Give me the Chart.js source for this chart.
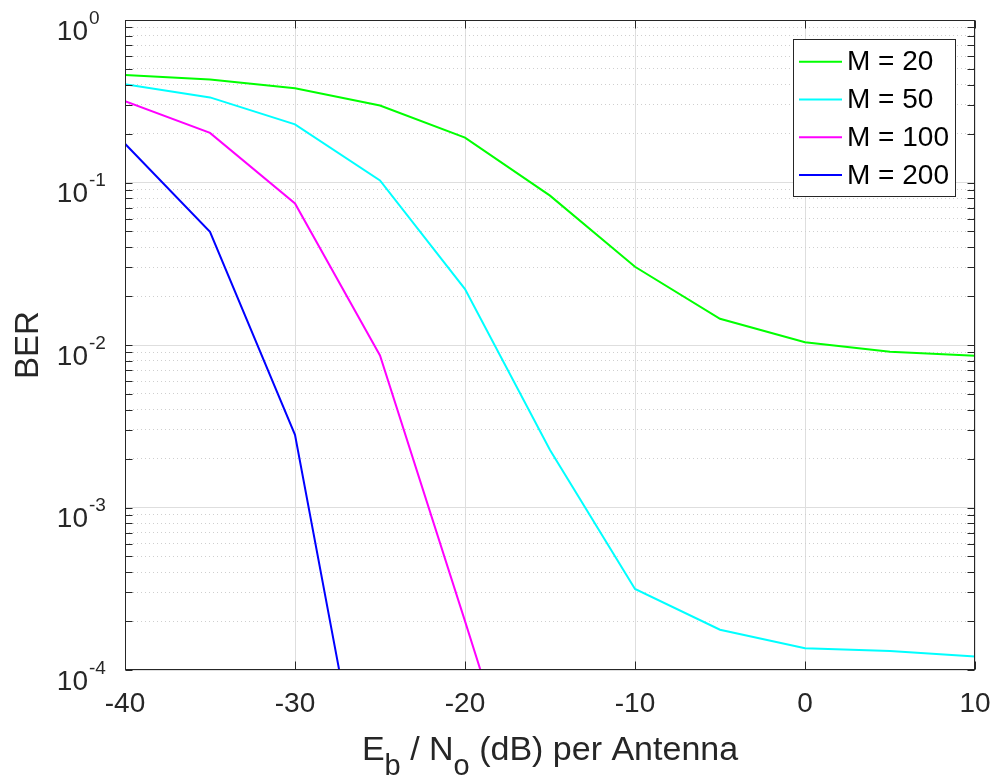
<!DOCTYPE html>
<html><head><meta charset="utf-8">
<script src="https://cdn.jsdelivr.net/npm/chart.js@4/dist/chart.umd.min.js"></script>
<style>html,body{margin:0;padding:0;background:#fff}#wrap{width:999px;height:778px;position:relative}</style>
</head><body><div id="wrap"><canvas id="c" width="999" height="778"></canvas></div>
<script>
// ---- data ----
const ebno = [-40, -35, -30, -25, -20, -15, -10, -5, 0, 5, 10];
const berM20  = [0.458, 0.43, 0.38, 0.298, 0.189, 0.083, 0.0303, 0.0145, 0.0104, 0.0091, 0.0086];
const berM50  = [0.403, 0.334, 0.228, 0.103, 0.0221, 0.00226, 3.15e-4, 1.77e-4, 1.36e-4, 1.31e-4, 1.21e-4];
const berM100 = [0.316, 0.202, 0.0743, 0.00863, 2.0e-4, 4.4e-6];
const berM200 = [0.173, 0.0497, 0.0028, 4.6e-6];
const seriesLabels = ['M = 20', 'M = 50', 'M = 100', 'M = 200'];
const xTickValues = [-40, -30, -20, -10, 0, 10];
const yDecades = [0, -1, -2, -3, -4];
const xTitleParts = [['E', 'main'], ['b', 'sub'], [' / N', 'main'], ['o', 'sub'], [' (dB) per Antenna', 'main']];
const yTitle = 'BER';

// ---- styling ----
const FONT = '"Liberation Sans", Arial, Helvetica, sans-serif';
const INK = '#262626';
const MAJOR_GRID = '#dedede';
const MINOR_GRID = '#cfcfcf';

function pts(vals) { return vals.map((v, i) => ({ x: ebno[i], y: v })); }
function isMajor(v) { const l = Math.log10(v); return Math.abs(l - Math.round(l)) < 1e-9; }

const lineColors = ['#00ff00', '#00ffff', '#ff00ff', '#0000ff'];
const datasets = [berM20, berM50, berM100, berM200].map((vals, i) => ({
  label: seriesLabels[i],
  data: pts(vals),
  borderColor: lineColors[i],
  backgroundColor: lineColors[i],
  borderWidth: 2,
  pointRadius: 0,
  tension: 0,
  fill: false
}));

const decorPlugin = {
  id: 'decor',
  afterDraw(chart) {
    const ctx = chart.ctx;
    const a = chart.chartArea;
    const xs = chart.scales.x, ys = chart.scales.y;
    const L = Math.round(a.left) + 0.5, R = Math.round(a.right) - 0.5;
    const T = Math.round(a.top) + 0.5, B = Math.round(a.bottom) - 0.5;
    ctx.save();
    // inward ticks
    ctx.strokeStyle = INK; ctx.lineWidth = 1;
    ctx.beginPath();
    ys.ticks.forEach(t => {
      const y = Math.round(ys.getPixelForValue(t.value)) + 0.5;
      ctx.moveTo(L, y); ctx.lineTo(L + 7, y);
      ctx.moveTo(R, y); ctx.lineTo(R - 7, y);
    });
    xs.ticks.forEach(t => {
      const x = Math.round(xs.getPixelForValue(t.value)) + 0.5;
      ctx.moveTo(x, B); ctx.lineTo(x, B - 8);
      ctx.moveTo(x, T); ctx.lineTo(x, T + 8);
    });
    ctx.stroke();
    // box
    ctx.strokeRect(L, T, R - L, B - T);

    // y tick labels with superscripts
    ctx.fillStyle = INK;
    yDecades.forEach(k => {
      const y = ys.getPixelForValue(Math.pow(10, k));
      ctx.font = '28px ' + FONT;
      ctx.textAlign = 'right'; ctx.textBaseline = 'alphabetic';
      ctx.fillText('10', 88, y + 19.7);
      ctx.font = '19px ' + FONT;
      ctx.textAlign = 'left';
      ctx.fillText(String(k), 89, y + 3.7);
    });

    // y title
    ctx.save();
    ctx.translate(29, (a.top + a.bottom) / 2);
    ctx.rotate(-Math.PI / 2);
    ctx.font = '33px ' + FONT;
    ctx.textAlign = 'center'; ctx.textBaseline = 'middle';
    ctx.fillText(yTitle, 0, 0);
    ctx.restore();

    // x title with subscripts
    const fonts = { main: '34px ' + FONT, sub: '29px ' + FONT };
    let total = 0;
    xTitleParts.forEach(p => { ctx.font = fonts[p[1]]; total += ctx.measureText(p[0]).width; });
    let x = (a.left + a.right) / 2 - total / 2;
    ctx.textAlign = 'left'; ctx.textBaseline = 'alphabetic';
    xTitleParts.forEach(p => {
      ctx.font = fonts[p[1]];
      ctx.fillText(p[0], x, p[1] === 'main' ? 759.5 : 775);
      x += ctx.measureText(p[0]).width;
    });

    // legend
    const bx = 793.5, by = 39.5, bw = 162, bh = 157;
    ctx.fillStyle = '#ffffff';
    ctx.fillRect(bx, by, bw, bh);
    ctx.strokeStyle = INK; ctx.lineWidth = 1;
    ctx.strokeRect(bx, by, bw, bh);
    chart.data.datasets.forEach((ds, i) => {
      const cy = by + 22.2 + i * 37.8;
      ctx.strokeStyle = ds.borderColor; ctx.lineWidth = 2;
      ctx.beginPath(); ctx.moveTo(799, cy); ctx.lineTo(842, cy); ctx.stroke();
      ctx.fillStyle = '#000000';
      ctx.font = '28px ' + FONT;
      ctx.textAlign = 'left'; ctx.textBaseline = 'middle';
      ctx.fillText(ds.label, 847, cy + 1);
    });
    ctx.restore();
  }
};

new Chart(document.getElementById('c'), {
  type: 'line',
  data: { datasets },
  options: {
    responsive: false,
    animation: false,
    layout: { padding: { top: 20, right: 24, left: 0, bottom: 0 } },
    plugins: { legend: { display: false }, tooltip: { enabled: false } },
    scales: {
      x: {
        type: 'linear', min: -40, max: 10,
        afterBuildTicks: s => { s.ticks = xTickValues.map(v => ({ value: v })); },
        afterFit: s => { s.height = 108; s.paddingLeft = 0; s.paddingRight = 0; },
        ticks: { font: { family: FONT, size: 28 }, color: INK, padding: 17, autoSkip: false, maxRotation: 0 },
        grid: { color: MAJOR_GRID, lineWidth: 1, drawTicks: false },
        border: { display: false }
      },
      y: {
        type: 'logarithmic', min: 1e-4, max: 1,
        afterBuildTicks: s => {
          const t = [];
          for (let k = -4; k < 0; k++) for (let m = 1; m <= 9; m++) t.push({ value: m * Math.pow(10, k) });
          t.push({ value: 1 });
          s.ticks = t;
        },
        afterFit: s => { s.width = 125; s.paddingTop = 0; s.paddingBottom = 0; },
        ticks: { display: true, autoSkip: false, callback: () => '' },
        grid: {
          drawTicks: false, lineWidth: 1,
          color: c => (c.tick && isMajor(c.tick.value)) ? MAJOR_GRID : MINOR_GRID
        },
        border: { display: false, dash: c => (c.tick && isMajor(c.tick.value)) ? [] : [1, 3] }
      }
    }
  },
  plugins: [decorPlugin]
});
</script>
</body></html>
